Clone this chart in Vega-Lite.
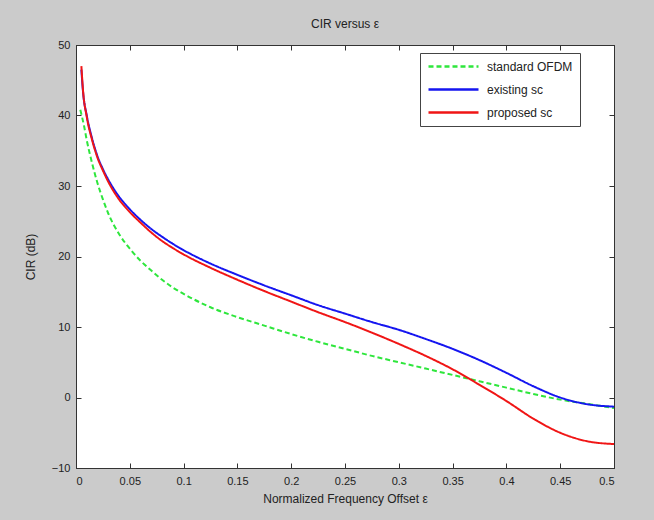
{
  "$schema": "https://vega.github.io/schema/vega-lite/v6.json",
  "autosize": "none",
  "width": 538,
  "height": 423,
  "padding": {"left": 76, "top": 45, "right": 40, "bottom": 52},
  "background": "#cbcbcb",
  "title": {"text": "CIR versus ε", "fontSize": 12, "fontWeight": "normal", "font": "Liberation Sans", "color": "#222", "offset": 8},
  "config": {
    "view": {"fill": "white", "stroke": "#333", "strokeWidth": 1},
    "axis": {"labelFont": "Liberation Sans", "titleFont": "Liberation Sans", "labelColor": "#222", "titleColor": "#222", "labelFontSize": 11, "titleFontSize": 12, "titleFontWeight": "normal", "grid": false, "domainColor": "#333", "tickColor": "#333", "tickSize": -5}
  },
  "resolve": {"axis": {"x": "independent", "y": "independent"}},
  "data": {"values": [
    {"x": 0.004, "cir": 40.8, "series": "standard OFDM"},
    {"x": 0.0075, "cir": 38.5, "series": "standard OFDM"},
    {"x": 0.01, "cir": 36.5, "series": "standard OFDM"},
    {"x": 0.015, "cir": 33.2, "series": "standard OFDM"},
    {"x": 0.02, "cir": 30.4, "series": "standard OFDM"},
    {"x": 0.025, "cir": 28.1, "series": "standard OFDM"},
    {"x": 0.03, "cir": 26.1, "series": "standard OFDM"},
    {"x": 0.04, "cir": 23.2, "series": "standard OFDM"},
    {"x": 0.05, "cir": 21.1, "series": "standard OFDM"},
    {"x": 0.06, "cir": 19.4, "series": "standard OFDM"},
    {"x": 0.07, "cir": 18.0, "series": "standard OFDM"},
    {"x": 0.08, "cir": 16.7, "series": "standard OFDM"},
    {"x": 0.09, "cir": 15.6, "series": "standard OFDM"},
    {"x": 0.1, "cir": 14.7, "series": "standard OFDM"},
    {"x": 0.125, "cir": 12.8, "series": "standard OFDM"},
    {"x": 0.15, "cir": 11.4, "series": "standard OFDM"},
    {"x": 0.175, "cir": 10.2, "series": "standard OFDM"},
    {"x": 0.2, "cir": 9.0, "series": "standard OFDM"},
    {"x": 0.225, "cir": 7.9, "series": "standard OFDM"},
    {"x": 0.25, "cir": 6.9, "series": "standard OFDM"},
    {"x": 0.275, "cir": 5.9, "series": "standard OFDM"},
    {"x": 0.3, "cir": 5.0, "series": "standard OFDM"},
    {"x": 0.325, "cir": 4.1, "series": "standard OFDM"},
    {"x": 0.35, "cir": 3.2, "series": "standard OFDM"},
    {"x": 0.375, "cir": 2.3, "series": "standard OFDM"},
    {"x": 0.4, "cir": 1.4, "series": "standard OFDM"},
    {"x": 0.425, "cir": 0.5, "series": "standard OFDM"},
    {"x": 0.45, "cir": -0.3, "series": "standard OFDM"},
    {"x": 0.475, "cir": -0.9, "series": "standard OFDM"},
    {"x": 0.5, "cir": -1.5, "series": "standard OFDM"},
    {"x": 0.005, "cir": 46.5, "series": "existing sc"},
    {"x": 0.0065, "cir": 43.4, "series": "existing sc"},
    {"x": 0.01, "cir": 40.0, "series": "existing sc"},
    {"x": 0.015, "cir": 36.7, "series": "existing sc"},
    {"x": 0.02, "cir": 34.2, "series": "existing sc"},
    {"x": 0.025, "cir": 32.4, "series": "existing sc"},
    {"x": 0.03, "cir": 30.9, "series": "existing sc"},
    {"x": 0.04, "cir": 28.5, "series": "existing sc"},
    {"x": 0.05, "cir": 26.7, "series": "existing sc"},
    {"x": 0.06, "cir": 25.2, "series": "existing sc"},
    {"x": 0.07, "cir": 23.9, "series": "existing sc"},
    {"x": 0.08, "cir": 22.8, "series": "existing sc"},
    {"x": 0.09, "cir": 21.8, "series": "existing sc"},
    {"x": 0.1, "cir": 20.9, "series": "existing sc"},
    {"x": 0.125, "cir": 19.0, "series": "existing sc"},
    {"x": 0.15, "cir": 17.4, "series": "existing sc"},
    {"x": 0.175, "cir": 15.9, "series": "existing sc"},
    {"x": 0.2, "cir": 14.5, "series": "existing sc"},
    {"x": 0.225, "cir": 13.1, "series": "existing sc"},
    {"x": 0.25, "cir": 11.9, "series": "existing sc"},
    {"x": 0.275, "cir": 10.7, "series": "existing sc"},
    {"x": 0.3, "cir": 9.6, "series": "existing sc"},
    {"x": 0.325, "cir": 8.3, "series": "existing sc"},
    {"x": 0.35, "cir": 6.9, "series": "existing sc"},
    {"x": 0.375, "cir": 5.3, "series": "existing sc"},
    {"x": 0.4, "cir": 3.5, "series": "existing sc"},
    {"x": 0.425, "cir": 1.6, "series": "existing sc"},
    {"x": 0.45, "cir": 0.0, "series": "existing sc"},
    {"x": 0.475, "cir": -0.95, "series": "existing sc"},
    {"x": 0.5, "cir": -1.3, "series": "existing sc"},
    {"x": 0.005, "cir": 47, "series": "proposed sc"},
    {"x": 0.0065, "cir": 43.6, "series": "proposed sc"},
    {"x": 0.01, "cir": 39.8, "series": "proposed sc"},
    {"x": 0.015, "cir": 36.5, "series": "proposed sc"},
    {"x": 0.02, "cir": 34.0, "series": "proposed sc"},
    {"x": 0.025, "cir": 32.2, "series": "proposed sc"},
    {"x": 0.03, "cir": 30.6, "series": "proposed sc"},
    {"x": 0.04, "cir": 28.1, "series": "proposed sc"},
    {"x": 0.05, "cir": 26.3, "series": "proposed sc"},
    {"x": 0.06, "cir": 24.8, "series": "proposed sc"},
    {"x": 0.07, "cir": 23.4, "series": "proposed sc"},
    {"x": 0.08, "cir": 22.2, "series": "proposed sc"},
    {"x": 0.09, "cir": 21.2, "series": "proposed sc"},
    {"x": 0.1, "cir": 20.3, "series": "proposed sc"},
    {"x": 0.125, "cir": 18.4, "series": "proposed sc"},
    {"x": 0.15, "cir": 16.7, "series": "proposed sc"},
    {"x": 0.175, "cir": 15.1, "series": "proposed sc"},
    {"x": 0.2, "cir": 13.6, "series": "proposed sc"},
    {"x": 0.225, "cir": 12.1, "series": "proposed sc"},
    {"x": 0.25, "cir": 10.7, "series": "proposed sc"},
    {"x": 0.275, "cir": 9.2, "series": "proposed sc"},
    {"x": 0.3, "cir": 7.6, "series": "proposed sc"},
    {"x": 0.325, "cir": 5.9, "series": "proposed sc"},
    {"x": 0.35, "cir": 4.0, "series": "proposed sc"},
    {"x": 0.375, "cir": 1.8, "series": "proposed sc"},
    {"x": 0.4, "cir": -0.5, "series": "proposed sc"},
    {"x": 0.425, "cir": -3.0, "series": "proposed sc"},
    {"x": 0.45, "cir": -5.0, "series": "proposed sc"},
    {"x": 0.475, "cir": -6.2, "series": "proposed sc"},
    {"x": 0.5, "cir": -6.6, "series": "proposed sc"}
  ]},
  "layer": [
    {
      "mark": {"type": "line", "interpolate": "monotone", "clip": true},
      "encoding": {
        "x": {"field": "x", "type": "quantitative", "scale": {"domain": [0, 0.5], "nice": false, "zero": false},
          "axis": {"values": [0, 0.05, 0.1, 0.15, 0.2, 0.25, 0.3, 0.35, 0.4, 0.45, 0.5], "format": ".2~f", "title": "Normalized Frequency Offset ε", "labelPadding": 12, "titlePadding": 7}},
        "y": {"field": "cir", "type": "quantitative", "scale": {"domain": [-10, 50], "nice": false, "zero": false},
          "axis": {"values": [-10, 0, 10, 20, 30, 40, 50], "title": "CIR (dB)", "labelPadding": 11, "titlePadding": 14}},
        "color": {"field": "series", "type": "nominal", "sort": ["standard OFDM", "existing sc", "proposed sc"],
          "scale": {"domain": ["standard OFDM", "existing sc", "proposed sc"], "range": ["#2ee63c", "#1515f0", "#f01515"]},
          "legend": {"title": null, "orient": "none", "legendX": 344, "legendY": 8, "fillColor": "white", "strokeColor": "#444",
            "padding": 7, "rowPadding": 10, "labelFont": "Liberation Sans", "labelFontSize": 12, "labelColor": "#222",
            "symbolType": "M-1,0H9", "symbolSize": 100, "symbolStrokeWidth": 2.5, "labelOffset": 47, "cornerRadius": 0}},
        "strokeDash": {"field": "series", "type": "nominal",
          "scale": {"domain": ["standard OFDM", "existing sc", "proposed sc"], "range": [[5, 3], [1, 0], [1, 0]]},
          "legend": null},
        "strokeWidth": {"value": 2}
      }
    },
    {
      "mark": {"type": "point", "opacity": 0},
      "encoding": {
        "x": {"field": "x", "type": "quantitative", "axis": {"orient": "top", "values": [0, 0.05, 0.1, 0.15, 0.2, 0.25, 0.3, 0.35, 0.4, 0.45, 0.5], "labels": false, "title": null}},
        "y": {"field": "cir", "type": "quantitative", "axis": {"orient": "right", "values": [-10, 0, 10, 20, 30, 40, 50], "labels": false, "title": null}}
      }
    }
  ]
}
